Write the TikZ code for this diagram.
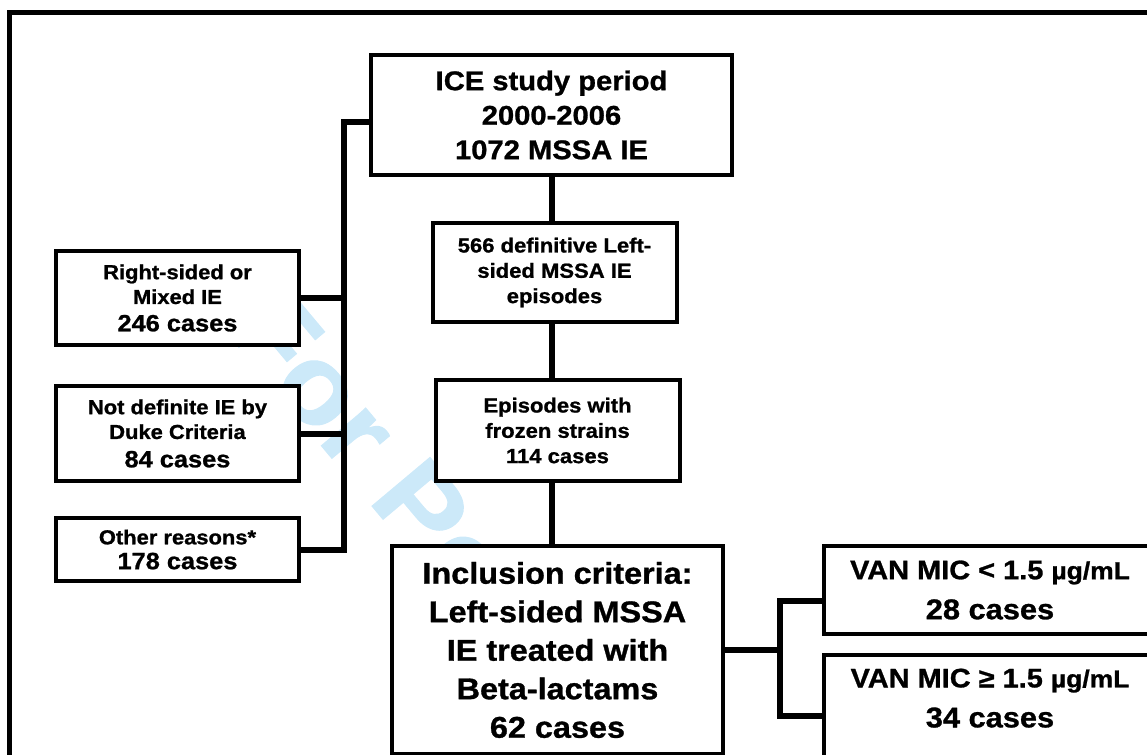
\documentclass[tikz,border=0pt]{standalone}
\usepackage{fontspec}
\setmainfont{Liberation Sans}[FakeStretch=1.08, FakeBold=1]
\usetikzlibrary{positioning}
\definecolor{peerblue}{RGB}{204,233,249}
\newcommand{\ncases}[1]{{\fontsize{23.5}{27}\selectfont #1 cases}}
\tikzset{block/.style = {rectangle, draw, line width=4pt, fill=white, align=center, inner sep=0pt},
	bigblock/.style  = {block, minimum width=361pt, minimum height=120pt, font=\fontsize{27}{34.5}\selectfont\bfseries},
	midblock/.style  = {block, minimum width=244pt, font=\fontsize{20.4}{25.3}\selectfont\bfseries},
	sideblock/.style = {block, minimum width=243pt, font=\fontsize{20.3}{24.8}\selectfont\bfseries},
	inclblock/.style = {block, minimum width=331pt, minimum height=208pt, font=\fontsize{30}{38.5}\selectfont\bfseries},
	vanblock/.style  = {block, minimum width=332pt, font=\fontsize{26.8}{40}\selectfont\bfseries},
	link/.style      = {draw, line width=6pt}
}

\begin{document}
\begin{tikzpicture}[x=1pt, y=-1pt]
	\useasboundingbox (0,0) rectangle (1147,754);
	\clip (0,0) rectangle (1147,754);
	\draw[line width=4.5pt] (9.5,12.5) rectangle (1180,790);
	\node[rotate=-50, text=peerblue, font=\fontsize{110}{110}\selectfont\bfseries] (peer) at (550,657) {For Peer Review};
	% main column
	\node[bigblock] (ice) at (551.5,115) {ICE study period\\2000-2006\\1072 MSSA IE};
	\node[midblock, minimum height=99pt, below=44pt of ice, xshift=3pt] (def) {566 definitive Left-\\sided MSSA IE\\episodes};
	\node[midblock, minimum height=101pt, below=54pt of def, xshift=3pt] (froz) {Episodes with\\frozen strains\\114 cases};
	\node[inclblock, below=61pt of froz] (incl) {Inclusion criteria:\\Left-sided MSSA\\IE treated with\\Beta-lactams\\62 cases};
	% excluded
	\node[sideblock, minimum height=94pt] (right) at (177.5,298) {Right-sided or\\Mixed IE\\[2.5pt]\ncases{246}};
	\node[sideblock, minimum height=95pt, below=37pt of right] (notdef) {Not definite IE by\\Duke Criteria\\[3.5pt]\ncases{84}};
	\node[sideblock, minimum height=63pt, below=33pt of notdef] (other) {Other reasons*\\\ncases{178}};
	% MIC groups
	\node[vanblock, minimum height=88pt, anchor=north west] (van1) at ([xshift=97pt]incl.north east) {VAN MIC < 1.5 {\fontsize{24.5}{40}\selectfont µg/mL}\\{\fontsize{28.5}{40}\selectfont 28 cases}};
	\node[vanblock, minimum height=102pt, below=17pt of van1] (van2) {VAN MIC ≥ 1.5 {\fontsize{24.5}{40}\selectfont µg/mL}\\{\fontsize{28.5}{40}\selectfont 34 cases}\\[-24pt]\mbox{}};
	% connectors
	\path[link] ([yshift=-7pt]ice.west) -- ++(-25,0) coordinate (lbar) |- (other.east);
	\path[link] (right.east) -- (right.east -| lbar);
	\path[link] (notdef.east) -- (notdef.east -| lbar);
	\path[link] (ice.south) -- (ice.south |- def.north);
	\path[link] (ice.south |- def.south) -- (ice.south |- froz.north);
	\path[link] (ice.south |- froz.south) -- (ice.south |- incl.north);
	\path[link] (incl.east) -- ++(55,0) coordinate (rbar);
	\path[link] ([yshift=-11pt]van1.west) -- ++(-42,0) |- ([yshift=-10pt]van2.west);
\end{tikzpicture}
\end{document}
